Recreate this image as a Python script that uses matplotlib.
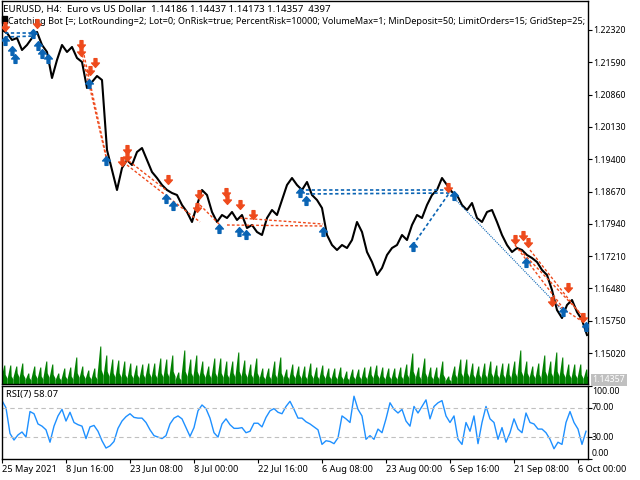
import numpy as np
import matplotlib
matplotlib.use("Agg")
import matplotlib.pyplot as plt
from matplotlib.path import Path
from matplotlib.patches import Rectangle

# close prices, one sample every 5 H4 bars
close = [1.22320, 1.22252, 1.22094, 1.22139, 1.21868, 1.21981, 1.22139, 1.22275, 1.21981, 1.21823,
         1.21235, 1.21642, 1.21981, 1.21823, 1.21936, 1.21687, 1.21597, 1.21009, 1.21145, 1.21280,
         1.21190, 1.19608, 1.19156, 1.18704, 1.19201, 1.19382, 1.19269, 1.19563, 1.19653, 1.19382,
         1.19111, 1.18975, 1.18817, 1.18704, 1.18636, 1.18591, 1.18365, 1.18207, 1.17981, 1.18365,
         1.18704, 1.18591, 1.18207, 1.17981, 1.18139, 1.18071, 1.18207, 1.18026, 1.18139, 1.17845,
         1.17913, 1.17755, 1.17687, 1.18071, 1.18252, 1.18139, 1.18478, 1.18817, 1.18975, 1.18817,
         1.18704, 1.18885, 1.18591, 1.18478, 1.18297, 1.17687, 1.17461, 1.17348, 1.17461, 1.17393,
         1.17574, 1.17981, 1.17755, 1.17303, 1.17077, 1.16783, 1.16941, 1.17235, 1.17393, 1.17461,
         1.17687, 1.17574, 1.17913, 1.18139, 1.18071, 1.18365, 1.18591, 1.18704, 1.18975, 1.18817,
         1.18659, 1.18591, 1.18365, 1.18252, 1.18410, 1.18071, 1.17981, 1.18207, 1.18252, 1.17981,
         1.17687, 1.17461, 1.17303, 1.17393, 1.17348, 1.17235, 1.17167, 1.17077, 1.16896, 1.16783,
         1.16444, 1.15992, 1.15811, 1.16105, 1.16218, 1.15947, 1.15766, 1.15427]

# RSI(7), one sample every 4 bars
rsi = [80, 70, 35, 26, 33, 37, 30, 65, 62, 48, 45, 40, 23, 45, 59, 68, 52, 64, 50, 47,
       45, 28, 44, 46, 38, 25, 15, 18, 24, 42, 52, 58, 62, 57, 56, 56, 50, 40, 32, 30,
       28, 32, 48, 56, 59, 55, 43, 31, 43, 66, 74, 69, 56, 36, 30, 48, 55, 47, 42, 42,
       43, 36, 38, 49, 49, 44, 57, 66, 69, 64, 62, 72, 79, 68, 56, 56, 51, 48, 44, 40,
       20, 25, 24, 21, 29, 59, 55, 50, 86, 68, 59, 27, 32, 27, 41, 36, 55, 77, 68, 63,
       68, 52, 45, 72, 63, 72, 81, 55, 72, 77, 80, 59, 50, 59, 27, 20, 50, 38, 59, 21,
       50, 72, 55, 50, 27, 43, 23, 36, 55, 41, 36, 63, 50, 48, 41, 41, 36, 27, 14, 23,
       20, 50, 65, 50, 41, 20, 38]

# daily tick volume: session peak and quiet-hours level
vol_peak = [1900, 1900, 1800, 2100, 1100, 1800, 1700, 2300, 2000, 1100, 1600, 1700, 2700, 1800, 1400,
            1600, 3800, 2900, 2500, 2400, 2300, 2100, 1900, 2000, 2100, 2100, 2600, 2500, 2900, 1200,
            3400, 2500, 2900, 2300, 1800, 2600, 2600, 2300, 2300, 3200, 2400, 2000, 2600, 1600, 1600,
            2300, 2700, 1500, 2000, 1800, 1800, 2100, 1700, 1900, 1600, 1600, 1700, 1300, 1500, 1500,
            1700, 1800, 1900, 1700, 1600, 1600, 1700, 2000, 3100, 1700, 2600, 1700, 1700, 2300, 800,
            1800, 2500, 2500, 2100, 1800, 2100, 2300, 1900, 2100, 2100, 2300, 3400, 2300, 1800, 2100,
            2900, 2300, 3200, 2700, 2000, 2000, 2000, 1500]
vol_low = [600, 500, 700, 600, 400, 600, 500, 700, 600, 400, 500, 500, 700, 600, 500,
           500, 900, 800, 700, 700, 600, 600, 600, 600, 700, 600, 700, 700, 800, 400,
           800, 700, 800, 700, 600, 700, 700, 600, 700, 800, 700, 600, 700, 500, 500,
           600, 700, 500, 600, 600, 500, 600, 500, 600, 500, 500, 500, 400, 500, 500,
           500, 600, 600, 500, 500, 500, 500, 600, 800, 500, 700, 500, 500, 600, 300,
           600, 700, 700, 600, 600, 600, 700, 600, 600, 600, 700, 800, 700, 600, 600,
           800, 700, 800, 700, 600, 600, 600, 500]

# trades: (bar, price)
sells = [(3, 1.22388), (35, 1.22456), (79, 1.21981), (79, 1.21823), (93, 1.21574), (88, 1.21393),
         (125, 1.19608), (125, 1.19450), (120, 1.19337), (166, 1.18930), (197, 1.18591),
         (195, 1.18297), (224, 1.18636), (225, 1.18478), (238, 1.18365), (251, 1.18139),
         (446, 1.18749), (513, 1.17574), (521, 1.17664), (526, 1.17506), (550, 1.16173),
         (566, 1.16489), (581, 1.15811)]
buys = [(3, 1.22094), (10, 1.21868), (13, 1.21687), (31, 1.22252), (36, 1.21981), (40, 1.21800),
        (46, 1.21687), (87, 1.21122), (104, 1.19382), (164, 1.18523), (171, 1.18365),
        (217, 1.17845), (237, 1.17777), (244, 1.17710), (298, 1.18659), (304, 1.18478),
        (321, 1.17777), (411, 1.17438), (452, 1.18591), (524, 1.17077), (561, 1.15969),
        (584, 1.15630)]
sell_links = [((79, 1.21868), (104, 1.19450)), ((82, 1.21755), (105, 1.19382)),
              ((123, 1.19427), (164, 1.18704)), ((125, 1.19269), (198, 1.17981)),
              ((198, 1.18365), (218, 1.17913)), ((225, 1.17913), (321, 1.17890)),
              ((238, 1.18071), (321, 1.17935)), ((513, 1.17461), (561, 1.16037)),
              ((518, 1.17348), (583, 1.15811)), ((528, 1.17348), (583, 1.15766)),
              ((551, 1.16173), (581, 1.15721))]
buy_links = [((3, 1.22252), (33, 1.22252)), ((3, 1.22162), (33, 1.22184)),
             ((298, 1.18704), (448, 1.18704)), ((304, 1.18614), (448, 1.18636)),
             ((411, 1.17461), (448, 1.18659))]
buy_thin = [((450, 1.18569), (561, 1.15969))]

date_pos = [0, 64, 128, 192, 256, 320, 384, 448, 512, 576]
date_lbl = ["25 May 2021", "8 Jun 16:00", "23 Jun 08:00", "8 Jul 00:00", "22 Jul 16:00",
            "6 Aug 08:00", "23 Aug 00:00", "6 Sep 16:00", "21 Sep 08:00", "6 Oct 00:00"]
price_ticks = [1.15020, 1.15750, 1.16480, 1.17210, 1.17940, 1.18670, 1.19400, 1.20130,
               1.20860, 1.21590, 1.22320]

RED = "#ee4a1c"
BLUE = "#0a64b4"
FONT = "Noto Sans"
FS = 6.3

plt.rcParams["font.family"] = FONT

W, H = 640, 480
fig = plt.figure(figsize=(6.4, 4.8), dpi=100)
ax = fig.add_axes([2 / W, 1 - 384 / H, 586 / W, 383 / H])
ax_v = ax.twinx()
ax.set_zorder(ax_v.get_zorder() + 1)
ax.patch.set_visible(False)
ax_r = fig.add_axes([2 / W, 1 - 459 / H, 586 / W, 73 / H])

# volume histogram
for i, (pk, lo) in enumerate(zip(vol_peak, vol_low)):
    b = 2 + 6 * i
    xs = [b - 3, b - 0.2, b + 0.8, b + 1.2, b + 3]
    ys = [lo, pk, pk, lo * 1.6, lo]
    ax_v.fill_between(xs, 0, ys, color="#008000", lw=0)
ax_v.set_ylim(0, 38300)
ax_v.set_yticks([])

# price
bars = np.arange(len(close)) * 5
ax.plot(bars, close, color="black", lw=1.5, zorder=3)

for (x0, y0), (x1, y1) in sell_links:
    ax.plot([x0, x1], [y0, y1], color=RED, lw=1.0, ls=(0, (2, 1.5)), zorder=4)
for (x0, y0), (x1, y1) in buy_links:
    ax.plot([x0, x1], [y0, y1], color=BLUE, lw=1.2, ls=(0, (2, 1.5)), zorder=4)
for (x0, y0), (x1, y1) in buy_thin:
    ax.plot([x0, x1], [y0, y1], color=BLUE, lw=0.8, ls=(0, (1, 1)), zorder=4)

down = Path([(-0.3, 1), (0.3, 1), (0.3, 0.1), (0.8, 0.1), (0, -0.8), (-0.8, 0.1), (-0.3, 0.1), (-0.3, 1)],
            closed=True)
up = Path([(x, -y) for x, y in down.vertices], closed=True)
ax.plot([s[0] for s in sells], [s[1] for s in sells], ls="none", marker=down, ms=7,
        color=RED, mec=RED, zorder=5)
ax.plot([b[0] for b in buys], [b[1] for b in buys], ls="none", marker=up, ms=7,
        color=BLUE, mec=BLUE, zorder=5)

ax.set_xlim(0, 586)
ax.set_ylim(1.14320, 1.22975)
ax.set_xticks([])
ax.yaxis.tick_right()
ax.set_yticks(price_ticks)
ax.set_yticklabels([f"{t:.5f}" for t in price_ticks])
ax.tick_params(axis="y", direction="out", length=3, width=0.8, pad=1, labelsize=FS)
for s in ax.spines.values():
    s.set_linewidth(1.0)
for s in ax_v.spines.values():
    s.set_visible(False)

ax.text(1 / 586, 0.99, "EURUSD, H4:  Euro vs US Dollar  1.14186 1.14437 1.14173 1.14357  4397",
        transform=ax.transAxes, fontsize=7.0, va="top", ha="left")
ax.text(6 / 586, 0.958, "Catching Bot [=; LotRounding=2; Lot=0; OnRisk=true; PercentRisk=10000; "
        "VolumeMax=1; MinDeposit=50; LimitOrders=15; GridStep=25;",
        transform=ax.transAxes, fontsize=6.55, va="top", ha="left")
fig.add_artist(Rectangle((2 / W, 1 - 23 / H), 5 / W, 7 / H, color="black", transform=fig.transFigure))

# last price tag
fig.text(609 / W, 1 - 380 / H, "1.14357", color="white", fontsize=FS, ha="center", va="center",
         bbox=dict(boxstyle="square,pad=0.15", fc="#c0c0c0", ec="none"))

# RSI
ax_r.plot(np.arange(len(rsi)) * 4, rsi, color="#1e90ff", lw=1.0)
for lvl in (30, 70):
    ax_r.axhline(lvl, color="#c0c0c0", lw=0.8, ls=(0, (4, 3)))
ax_r.set_xlim(0, 586)
ax_r.set_ylim(0, 100)
ax_r.yaxis.tick_right()
ax_r.set_yticks([0, 30, 70, 100])
ax_r.set_yticklabels([])
ax_r.tick_params(axis="y", direction="out", length=3, width=0.8)
for val, lab, y in [(100, "100.00", 391), (70, "70.00", 407), (30, "30.00", 437), (0, "0.00", 453)]:
    fig.text(592 / W, 1 - y / H, lab, fontsize=FS, ha="left", va="center")
ax_r.text(4 / 586, 0.88, "RSI(7) 58.07", transform=ax_r.transAxes, fontsize=6.8,
          va="center", ha="left")
ax_r.set_xticks(date_pos)
ax_r.set_xticklabels(date_lbl, ha="left")
ax_r.tick_params(axis="x", direction="out", length=3, width=0.8, pad=1, labelsize=6.6)
for s in ax_r.spines.values():
    s.set_linewidth(1.0)

fig.savefig("out.png", dpi=100)
